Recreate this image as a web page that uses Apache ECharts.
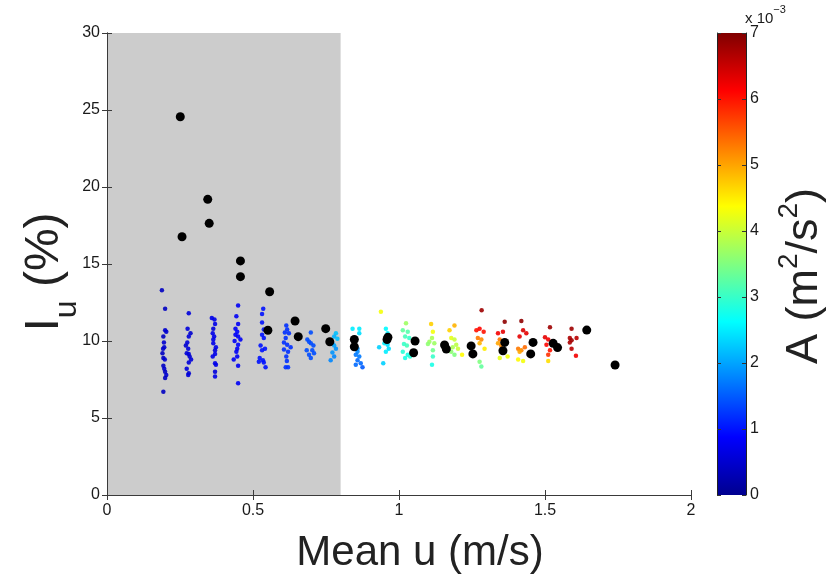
<!DOCTYPE html>
<html>
<head>
<meta charset="utf-8">
<script src="https://cdn.jsdelivr.net/npm/echarts@6/dist/echarts.min.js"></script>
<style>
  html, body { margin: 0; padding: 0; background: #ffffff; }
  #chart { width: 836px; height: 577px; }
</style>
</head>
<body>
<div id="chart"></div>
<script>
// Individual samples: mean velocity (m/s), turbulence intensity (%), acceleration A (x10^-3 m^2/s^2)
const meanU = [
  0.188,0.199,0.199,0.203,0.193,0.195,0.196,0.192,0.190,0.193,0.198,0.193,0.196,0.199,0.203,0.199,0.193,
  0.280,0.276,0.286,0.280,0.275,0.270,0.278,0.273,0.280,0.283,0.288,0.280,0.273,0.280,0.278,
  0.359,0.368,0.370,0.364,0.362,0.367,0.364,0.364,0.373,0.370,0.370,0.362,0.370,0.373,0.370,0.370,
  0.449,0.443,0.449,0.440,0.446,0.440,0.449,0.457,0.437,0.449,0.446,0.443,0.446,0.434,0.449,0.449,
  0.535,0.531,0.531,0.537,0.531,0.537,0.526,0.541,0.531,0.523,0.534,0.520,0.537,0.543,
  0.614,0.617,0.609,0.623,0.612,0.606,0.617,0.606,0.629,0.620,0.614,0.616,0.612,0.620,
  0.698,0.686,0.692,0.698,0.707,0.703,0.709,0.692,0.698,0.684,
  0.784,0.778,0.789,0.772,0.778,0.784,0.772,0.778,0.766,
  0.841,0.864,0.864,0.858,0.858,0.852,0.864,0.858,0.869,0.852,0.875,
  0.938,0.955,0.961,0.950,0.961,0.932,0.965,0.955,0.946,
  1.024,1.013,1.030,1.021,1.035,1.017,1.027,1.013,1.030,1.021,1.038,
  1.110,1.116,1.113,1.104,1.099,1.121,1.116,1.116,1.113,
  1.190,1.173,1.179,1.190,1.196,1.184,1.179,1.202,1.190,1.216,
  1.283,1.265,1.276,1.290,1.270,1.282,1.276,1.293,1.276,1.282,
  1.362,1.339,1.356,1.345,1.339,1.350,1.345,1.372,
  1.419,1.425,1.413,1.436,1.408,1.419,1.431,1.413,1.408,1.425,
  1.517,1.500,1.511,1.505,1.517,1.511,1.511,
  1.591,1.585,1.591,1.608,1.585,1.591,1.606
];
const intensity = [
  13.3,12.1,10.7,10.6,10.3,9.9,9.6,9.5,9.2,8.9,8.8,8.4,8.2,8.0,7.8,7.6,6.7,
  11.8,10.8,10.5,10.3,9.9,9.7,9.5,9.2,9.15,9.0,8.8,8.6,8.2,7.9,7.8,
  11.5,11.4,11.1,10.8,10.5,10.3,10.1,9.85,9.6,9.4,9.15,9.0,8.55,8.45,8.0,7.7,
  12.3,11.6,11.1,10.8,10.6,10.4,10.3,10.1,10.0,9.75,9.5,9.3,9.0,8.8,8.4,7.25,
  12.1,11.75,11.2,10.75,10.4,10.2,9.7,9.5,9.4,8.9,8.75,8.65,8.6,8.3,
  11.0,10.75,10.55,10.5,10.2,9.9,9.75,9.45,9.6,9.3,9.0,8.7,8.3,8.3,
  10.55,10.1,9.95,9.85,9.7,9.4,9.2,9.1,8.9,9.4,
  10.5,10.3,10.15,9.85,9.7,9.5,9.25,9.0,8.75,
  10.8,10.8,10.5,9.5,9.3,9.1,9.0,8.75,8.55,8.45,8.3,
  11.9,10.8,10.5,9.85,9.75,9.6,9.5,9.3,8.55,
  11.15,10.7,10.6,10.3,10.2,9.8,9.7,9.3,9.1,8.9,9.0,
  11.1,10.6,10.2,9.95,9.8,9.85,9.4,9.0,8.45,
  11.0,10.7,10.2,10.1,9.75,9.6,9.3,9.5,9.1,9.1,
  12.0,10.7,10.8,10.6,10.2,10.1,9.85,9.5,8.65,8.35,
  11.25,10.5,10.6,10.1,9.85,9.7,8.9,9.0,
  11.3,10.7,10.3,10.5,9.5,9.4,9.6,9.3,8.8,8.7,
  10.9,10.25,10.1,9.75,9.4,9.1,8.7,
  10.8,10.2,10.05,10.2,9.9,9.5,9.05
];
const accel = [
  0.4,0.4,0.5,0.5,0.4,0.5,0.5,0.5,0.4,0.4,0.5,0.4,0.5,0.4,0.5,0.4,0.4,
  0.6,0.6,0.5,0.6,0.6,0.5,0.6,0.6,0.6,0.5,0.6,0.6,0.6,0.5,0.6,
  0.7,0.7,0.7,0.6,0.7,0.7,0.7,0.7,0.7,0.6,0.7,0.7,0.7,0.7,0.6,0.7,
  0.8,0.8,0.8,0.8,0.9,0.8,0.8,0.8,0.8,0.9,0.8,0.8,0.8,0.8,0.8,0.8,
  1.0,1.0,1.0,1.0,1.0,1.0,1.0,1.0,1.0,1.0,1.0,1.0,1.0,1.0,
  1.2,1.2,1.2,1.2,1.2,1.2,1.2,1.2,1.2,1.2,1.2,1.2,1.2,1.2,
  1.4,1.4,1.4,1.4,1.4,1.4,1.4,1.4,1.4,1.4,
  2.2,2.1,2.2,2.0,2.0,1.9,1.9,1.8,1.8,
  2.5,2.5,2.4,1.9,1.8,1.7,1.7,1.6,1.6,1.6,1.5,
  4.3,2.6,2.5,2.5,2.4,2.3,2.4,2.5,2.3,
  3.7,3.3,3.2,3.1,3.0,3.0,3.1,2.9,2.8,2.8,2.9,
  4.7,4.3,3.8,3.7,3.6,3.7,3.4,3.0,2.8,
  4.9,4.7,4.2,4.0,3.9,3.8,3.6,4.0,3.5,4.4,
  6.8,6.0,6.1,6.0,5.3,5.2,4.9,4.5,3.5,3.3,
  6.9,6.2,6.3,5.3,5.0,5.2,4.2,4.3,
  6.9,6.4,6.3,6.3,5.3,5.2,5.4,5.0,4.4,4.3,
  6.8,6.3,6.2,6.1,6.0,5.8,4.6,
  6.8,6.7,6.8,6.6,6.7,6.6,6.2
];

// Per-run averages (black markers)
const runMeanU = [0.251,0.257,0.345,0.350,0.457,0.457,0.557,0.551,0.644,0.655,0.749,0.763,
  0.847,0.847,0.959,0.962,1.055,1.050,1.156,1.162,1.247,1.253,1.362,1.356,1.459,1.451,1.528,1.543,1.643,1.740];
const runIntensity = [24.56,16.77,19.2,17.64,15.2,14.18,13.2,10.7,11.3,10.28,10.8,9.95,
  10.1,9.63,10.1,10.25,10.0,9.24,9.74,9.48,9.68,9.16,9.91,9.37,9.91,9.16,9.85,9.57,10.71,8.44];

// Shaded low-velocity band (m/s)
const shadedBand = [0, 0.8];
// Axis ranges and tick spacing
const xRange = [0, 2], xStep = 0.5;
const yRange = [0, 30], yStep = 5;
const accelRange = [0, 7], accelStep = 1;

const jet = ['#00008f','#0000ff','#0080ff','#00ffff','#80ff80','#ffff00','#ff8000','#ff0000','#800000'];

const font = '"Liberation Sans", Arial, Helvetica, sans-serif';
const ink = '#1a1a1a';
const frame = '#3a3a3a';

const chart = echarts.init(document.getElementById('chart'), null, { renderer: 'canvas' });

const samples = meanU.map((u, i) => [u, intensity[i], accel[i]]);
const runs = runMeanU.map((u, i) => [u, runIntensity[i]]);

const tickLabel = { fontFamily: font, fontSize: 16, color: ink };

chart.setOption({
  animation: false,
  backgroundColor: '#ffffff',
  grid: [
    { left: 107, right: 145, top: 33, bottom: 82 },
    { left: 717, width: 29, top: 33, bottom: 82 }
  ],
  xAxis: [
    { gridIndex: 0, type: 'value', min: xRange[0], max: xRange[1], interval: xStep, position: 'bottom', z: 10,
      axisLine: { lineStyle: { color: frame, width: 1 } },
      axisTick: { inside: true, length: 5, lineStyle: { color: frame } },
      axisLabel: Object.assign({ margin: 8 }, tickLabel),
      splitLine: { show: false } },
    { gridIndex: 0, type: 'value', min: xRange[0], max: xRange[1], interval: xStep, position: 'top', z: 10,
      axisLine: { lineStyle: { color: frame, width: 1 } },
      axisTick: { inside: true, length: 5, lineStyle: { color: frame } },
      axisLabel: { show: false }, splitLine: { show: false } },
    { gridIndex: 1, type: 'category', data: ['A'], show: false }
  ],
  yAxis: [
    { gridIndex: 0, type: 'value', min: yRange[0], max: yRange[1], interval: yStep, position: 'left', z: 10,
      axisLine: { show: true, lineStyle: { color: frame, width: 1 } },
      axisTick: { show: true, inside: true, length: 5, lineStyle: { color: frame } },
      axisLabel: Object.assign({ margin: 7 }, tickLabel),
      splitLine: { show: false } },
    { gridIndex: 0, type: 'value', min: yRange[0], max: yRange[1], interval: yStep, position: 'right', z: 10,
      axisLine: { show: true, lineStyle: { color: frame, width: 1 } },
      axisTick: { show: true, inside: true, length: 5, lineStyle: { color: frame } },
      axisLabel: { show: false }, splitLine: { show: false } },
    { gridIndex: 1, type: 'value', min: accelRange[0], max: accelRange[1], interval: accelStep, position: 'right', z: 10,
      axisLine: { show: true, lineStyle: { color: '#222', width: 1 } },
      axisTick: { show: true, inside: true, length: 4, lineStyle: { color: '#333' } },
      axisLabel: Object.assign({ margin: 4 }, tickLabel),
      splitLine: { show: false } },
    { gridIndex: 1, type: 'value', min: accelRange[0], max: accelRange[1], interval: accelStep, position: 'left', z: 10,
      axisLine: { show: true, lineStyle: { color: '#222', width: 1 } },
      axisTick: { show: true, inside: true, length: 4, lineStyle: { color: '#333' } },
      axisLabel: { show: false }, splitLine: { show: false } }
  ],
  visualMap: {
    show: false, type: 'continuous', seriesIndex: 0, dimension: 2,
    min: accelRange[0], max: accelRange[1], inRange: { color: jet }
  },
  series: [
    {
      name: 'samples', type: 'scatter', xAxisIndex: 0, yAxisIndex: 0,
      data: samples, symbolSize: 4.5, z: 3,
      itemStyle: { opacity: 0.9 },
      markArea: {
        silent: true,
        itemStyle: { color: '#cccccc' },
        data: [[ { xAxis: shadedBand[0], yAxis: yRange[0] }, { xAxis: shadedBand[1], yAxis: yRange[1] } ]]
      }
    },
    {
      name: 'runs', type: 'scatter', xAxisIndex: 0, yAxisIndex: 0,
      data: runs, symbolSize: 9, z: 5,
      itemStyle: { color: '#000000', opacity: 1 }
    },
    {
      name: 'colorbar', type: 'bar', xAxisIndex: 2, yAxisIndex: 2,
      data: [accelRange[1]], barWidth: '100%', silent: true, z: 2,
      itemStyle: {
        color: {
          type: 'linear', x: 0, y: 0, x2: 0, y2: 1,
          colorStops: jet.slice().reverse().map((c, i, arr) => ({ offset: i / (arr.length - 1), color: c }))
        }
      }
    }
  ],
  graphic: [
    { type: 'text', x: 420, y: 553, z: 20,
      style: { text: 'Mean u (m/s)', fontFamily: font, fontSize: 42, fill: '#222',
               textAlign: 'center', textVerticalAlign: 'middle', align: 'center', verticalAlign: 'middle' } },
    { type: 'text', x: 52, y: 272, rotation: Math.PI / 2, z: 20,
      style: {
        text: '{m|I}{s|u}{m| (%)}',
        fontFamily: font, fill: '#222',
        textAlign: 'center', textVerticalAlign: 'middle', align: 'center', verticalAlign: 'middle',
        rich: {
          m: { fontFamily: font, fontSize: 48, lineHeight: 56, verticalAlign: 'top', fill: '#222' },
          s: { fontFamily: font, fontSize: 32, lineHeight: 62, verticalAlign: 'bottom', fill: '#222' }
        }
      } },
    { type: 'text', x: 801, y: 276, rotation: Math.PI / 2, z: 20,
      style: {
        text: '{m|A (m}{p|2}{m|/s}{p|2}{m|)}',
        fontFamily: font, fill: '#222',
        textAlign: 'center', textVerticalAlign: 'middle', align: 'center', verticalAlign: 'middle',
        rich: {
          m: { fontFamily: font, fontSize: 45, lineHeight: 52, verticalAlign: 'bottom', fill: '#222' },
          p: { fontFamily: font, fontSize: 28, lineHeight: 30, verticalAlign: 'top', fill: '#222' }
        }
      } },
    { type: 'text', x: 745, y: 26, z: 20,
      style: {
        text: '{a|x 10}{b|−3}',
        fontFamily: font, fill: ink,
        textAlign: 'left', textVerticalAlign: 'bottom', align: 'left', verticalAlign: 'bottom',
        rich: {
          a: { fontFamily: font, fontSize: 15, lineHeight: 22, verticalAlign: 'bottom', fill: ink },
          b: { fontFamily: font, fontSize: 11, lineHeight: 12, verticalAlign: 'top', fill: ink }
        }
      } }
  ]
});
</script>
</body>
</html>
